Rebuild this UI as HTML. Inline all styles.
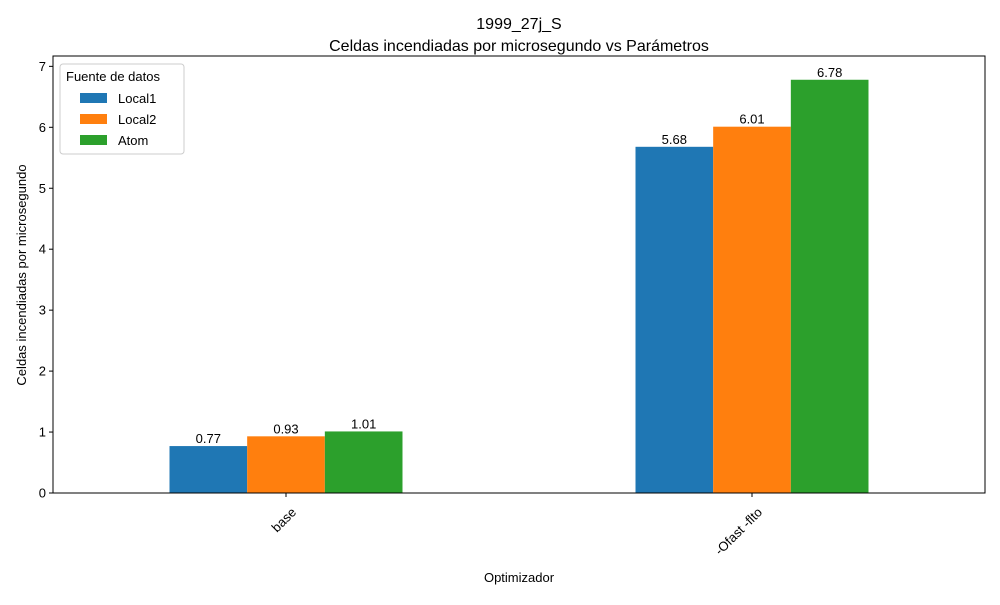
<!DOCTYPE html>
<html><head><meta charset="utf-8"><style>
body{margin:0;background:#fff;font-family:"Liberation Sans","DejaVu Sans",sans-serif;}
</style></head><body>
<svg id="chart" width="1000" height="600" xmlns="http://www.w3.org/2000/svg" font-family="Liberation Sans, DejaVu Sans, sans-serif">
<text x="519" y="29" text-anchor="middle" font-size="16">1999_27j_S</text>
<text x="519" y="51" text-anchor="middle" font-size="16">Celdas incendiadas por microsegundo vs Parámetros</text>
<g id="plot"></g>
<rect x="53" y="56" width="932" height="437" fill="none" stroke="#000" stroke-width="1"/>
<text x="519" y="582" text-anchor="middle" font-size="13">Optimizador</text>
<text transform="translate(26,275) rotate(-90)" text-anchor="middle" font-size="13">Celdas incendiadas por microsegundo</text>
<g>
<rect x="60" y="64" width="124" height="90" rx="3" fill="#fff" stroke="#ccc"/>
<text x="66" y="81" font-size="13">Fuente de datos</text>
<rect x="80" y="93" width="27" height="10" fill="#1f77b4"/>
<text x="118" y="103" font-size="13">Local1</text>
<rect x="80" y="114" width="27" height="10" fill="#ff7f0e"/>
<text x="118" y="124" font-size="13">Local2</text>
<rect x="80" y="135" width="27" height="10" fill="#2ca02c"/>
<text x="118" y="145" font-size="13">Atom</text>
</g>
</svg>
<script>
const categories = ["base", "-Ofast -flto"];
const local1 = [0.77, 5.68];
const local2 = [0.93, 6.01];
const atom = [1.01, 6.78];
const yTicks = [0, 1, 2, 3, 4, 5, 6, 7];
const seriesNames = ["Local1", "Local2", "Atom"];
const colors = ["#1f77b4", "#ff7f0e", "#2ca02c"];

const NS = "http://www.w3.org/2000/svg";
const L = 53, R = 985, B = 493;
const yUnit = 60.95;
function y(v){ return B - v * yUnit; }
function x(i){ return L + (i + 0.5) / categories.length * (R - L); }
const bw = (R - L) / categories.length * 0.5 / 3;
const g = document.getElementById('plot');
function mk(tag, attrs, txt){
  const e = document.createElementNS(NS, tag);
  for (const k in attrs) e.setAttribute(k, attrs[k]);
  if (txt !== undefined) e.textContent = txt;
  g.appendChild(e); return e;
}
yTicks.forEach(t => {
  const l = mk('line', {x1: L-4, x2: L, y1: y(t), y2: y(t), stroke: '#000'});
  
  
  const tx = mk('text', {x: L-7, y: y(t)+4.5, 'text-anchor': 'end', 'font-size': 13}, String(t));
  
  
});
const series = [local1, local2, atom];
categories.forEach((c, i) => {
  const cx = x(i);
  series.forEach((s, j) => {
    const x0 = cx + (j - 1.5) * bw;
    const r = mk('rect', {x: x0, y: y(s[i]), width: bw, height: B - y(s[i]), fill: colors[j]});
    
    
    const lb = mk('text', {x: x0 + bw/2, y: y(s[i]) - 3, 'text-anchor': 'middle', 'font-size': 13}, s[i].toFixed(2));
    
    
  });
  const tk = mk('line', {x1: cx, x2: cx, y1: B, y2: B+4, stroke: '#000'});
  
  
  const t = mk('text', {transform: `translate(${cx+11},${B+20}) rotate(-45)`, 'text-anchor': 'end', 'font-size': 13}, c);
  
  
});
</script>
</body></html>
